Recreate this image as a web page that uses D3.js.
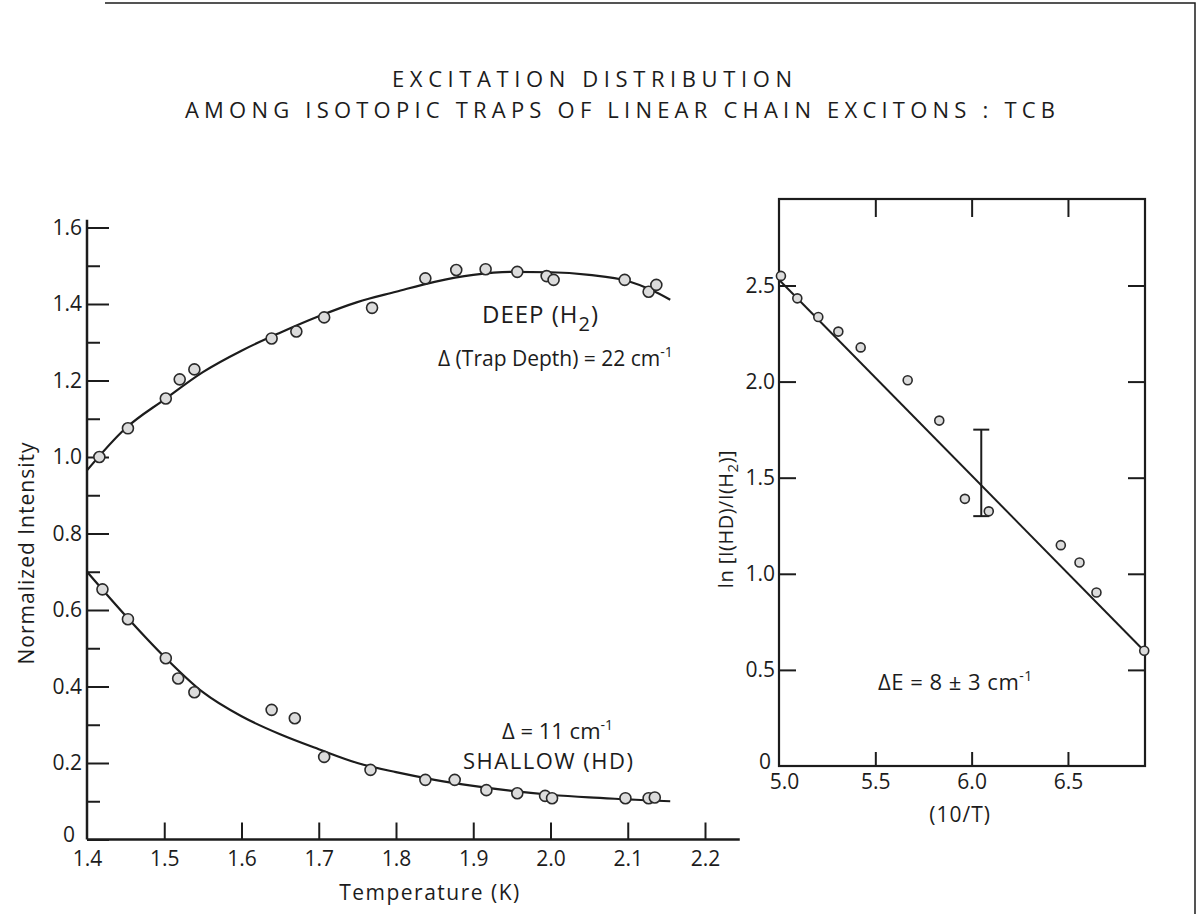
<!DOCTYPE html>
<html>
<head>
<meta charset="utf-8">
<script src="https://cdn.jsdelivr.net/npm/d3@7"></script>
<style>
  body { margin: 0; background: #fff; }
  text { font-family: "Open Sans", "DejaVu Sans", sans-serif; fill: #1c1c1c; }
</style>
</head>
<body>
<svg id="chart"></svg>
<script>
/* left panel data: normalized intensity vs temperature (K) */
var deepT = [1.416, 1.453, 1.502, 1.520, 1.539, 1.639, 1.671, 1.707, 1.769, 1.838, 1.878, 1.916, 1.957, 1.995, 2.004, 2.096, 2.127, 2.137];
var deepI = [1.000, 1.075, 1.153, 1.203, 1.229, 1.310, 1.328, 1.365, 1.390, 1.467, 1.489, 1.491, 1.484, 1.473, 1.463, 1.463, 1.432, 1.450];

var shallowT = [1.420, 1.453, 1.502, 1.518, 1.539, 1.639, 1.669, 1.707, 1.767, 1.838, 1.876, 1.917, 1.957, 1.993, 2.002, 2.097, 2.127, 2.135];
var shallowI = [0.654, 0.576, 0.474, 0.421, 0.385, 0.339, 0.317, 0.216, 0.182, 0.156, 0.156, 0.129, 0.121, 0.114, 0.108, 0.108, 0.108, 0.110];

// smooth fitted curves drawn through the points
var fitT       = [1.40, 1.45, 1.50, 1.55, 1.60, 1.65, 1.70, 1.75, 1.80, 1.85, 1.90, 1.95, 2.00, 2.05, 2.10, 2.13, 2.155];
var deepFit    = [0.965, 1.075, 1.150, 1.222, 1.278, 1.325, 1.368, 1.405, 1.432, 1.458, 1.476, 1.484, 1.483, 1.476, 1.460, 1.437, 1.411];
var shallowFit = [0.700, 0.585, 0.478, 0.385, 0.322, 0.275, 0.236, 0.200, 0.176, 0.156, 0.140, 0.127, 0.117, 0.110, 0.105, 0.102, 0.100];

var leftYTicks = [0, 0.2, 0.4, 0.6, 0.8, 1.0, 1.2, 1.4, 1.6];
var leftYMinor = [0.1, 0.3, 0.5, 0.7, 0.9, 1.1, 1.3, 1.5];
var leftXTicks = [1.4, 1.5, 1.6, 1.7, 1.8, 1.9, 2.0, 2.1, 2.2];

/* right panel data: ln[I(HD)/I(H2)] vs 10/T */
var invT    = [5.010, 5.095, 5.204, 5.308, 5.424, 5.668, 5.832, 5.965, 6.089, 6.463, 6.560, 6.648, 6.896];
var lnRatio = [2.550, 2.433, 2.336, 2.260, 2.178, 2.007, 1.797, 1.390, 1.325, 1.149, 1.059, 0.903, 0.600];

var lineX = [5.0, 6.895];
var lineY = [2.53, 0.60];

var errX = 6.05, errLow = 1.30, errHigh = 1.75;

var rightYTicks = [0, 0.5, 1.0, 1.5, 2.0, 2.5];
var rightXTicks = [5.0, 5.5, 6.0, 6.5];

var width = 1198, height = 914;
var ink = "#1c1c1c";

var svg = d3.select("#chart")
  .attr("width", width)
  .attr("height", height);

svg.append("rect").attr("width", width).attr("height", height).attr("fill", "#fff");

// page frame (top edge and right edge of the scanned sheet)
svg.append("path")
  .attr("d", "M105,3 L1195,3 L1195," + height)
  .attr("fill", "none").attr("stroke", ink).attr("stroke-width", 1.5);

// titles
svg.append("text")
  .attr("x", 392).attr("y", 87)
  .attr("font-size", 22)
  .attr("textLength", 400).attr("lengthAdjust", "spacing")
  .text("EXCITATION  DISTRIBUTION");
svg.append("text")
  .attr("x", 185).attr("y", 118)
  .attr("font-size", 22)
  .attr("textLength", 870).attr("lengthAdjust", "spacing")
  .text("AMONG ISOTOPIC TRAPS OF LINEAR CHAIN EXCITONS : TCB");

/* ---------- left panel ---------- */
var xL = d3.scaleLinear().domain([1.4, 2.2]).range([87, 705]);
var yL = d3.scaleLinear().domain([0, 1.6]).range([839.5, 227.5]);

var left = svg.append("g");

// axis lines drawn separately so they can run past the last tick
left.append("line")
  .attr("x1", xL(1.4)).attr("x2", xL(1.4))
  .attr("y1", yL(0)).attr("y2", yL(1.62))
  .attr("stroke", ink).attr("stroke-width", 2.5);
left.append("line")
  .attr("x1", xL(1.4)).attr("x2", xL(2.245))
  .attr("y1", yL(0)).attr("y2", yL(0))
  .attr("stroke", ink).attr("stroke-width", 2.5);

var yAxisL = d3.axisLeft(yL)
  .tickValues(leftYTicks)
  .tickSizeInner(-22).tickSizeOuter(0).tickPadding(5)
  .tickFormat(function (d) { return d === 0 ? "0" : d3.format(".1f")(d); });
var gy = left.append("g").attr("transform", "translate(" + xL(1.4) + ",0)").call(yAxisL);

var yMinorL = d3.axisLeft(yL).tickValues(leftYMinor).tickSizeInner(-13).tickSizeOuter(0).tickFormat("");
var gym = left.append("g").attr("transform", "translate(" + xL(1.4) + ",0)").call(yMinorL);

var xAxisL = d3.axisBottom(xL)
  .tickValues(leftXTicks)
  .tickSizeInner(-17).tickSizeOuter(0).tickPadding(12)
  .tickFormat(d3.format(".1f"));
var gx = left.append("g").attr("transform", "translate(0," + yL(0) + ")").call(xAxisL);

[gy, gym, gx].forEach(function (g) {
  g.select(".domain").remove();
  g.selectAll(".tick line").attr("stroke", ink).attr("stroke-width", 2);
  g.selectAll(".tick text").attr("font-size", 21).attr("font-family", null).attr("fill", ink);
});
// the corner tick of the x axis is just the y axis itself
gx.selectAll(".tick line").filter(function (d) { return d === 1.4; }).remove();
// keep the origin label clear of the "1.4" below it
gy.selectAll(".tick text").filter(function (d) { return d === 0; }).attr("x", -12).attr("dy", "0.1em");

// axis titles
left.append("text")
  .attr("transform", "translate(34,553) rotate(-90)")
  .attr("text-anchor", "middle")
  .attr("font-size", 21)
  .attr("letter-spacing", 1)
  .text("Normalized Intensity");
left.append("text")
  .attr("x", 430).attr("y", 900)
  .attr("text-anchor", "middle")
  .attr("font-size", 21)
  .attr("letter-spacing", 1.5)
  .text("Temperature  (K)");

// fitted curves
var curveL = d3.line()
  .x(function (d) { return xL(d[0]); })
  .y(function (d) { return yL(d[1]); })
  .curve(d3.curveMonotoneX);

left.append("path")
  .datum(d3.zip(fitT, deepFit))
  .attr("d", curveL)
  .attr("fill", "none").attr("stroke", ink).attr("stroke-width", 2.2);
left.append("path")
  .datum(d3.zip(fitT, shallowFit))
  .attr("d", curveL)
  .attr("fill", "none").attr("stroke", ink).attr("stroke-width", 2.2);

// measured points
function drawPoints (g, xs, ys, xScale, yScale, r) {
  g.selectAll(null)
    .data(d3.zip(xs, ys))
    .enter()
    .append("circle")
      .attr("cx", function (d) { return xScale(d[0]); })
      .attr("cy", function (d) { return yScale(d[1]); })
      .attr("r", r)
      .attr("fill", "#dcdcdc")
      .attr("stroke", "#2a2a2a")
      .attr("stroke-width", 1.6);
}
drawPoints(left, deepT, deepI, xL, yL, 5.5);
drawPoints(left, shallowT, shallowI, xL, yL, 5.5);

// curve labels
var deepLabel = left.append("text")
  .attr("x", 482).attr("y", 323)
  .attr("font-size", 24)
  .attr("letter-spacing", 1);
deepLabel.append("tspan").text("DEEP (H");
deepLabel.append("tspan").attr("dy", 8).attr("font-size", 20).text("2");
deepLabel.append("tspan").attr("dy", -8).text(")");

var depthLabel = left.append("text")
  .attr("x", 438).attr("y", 366)
  .attr("font-size", 21);
depthLabel.append("tspan").text("\u0394 (Trap Depth) = 22 cm");
depthLabel.append("tspan").attr("dy", -9).attr("font-size", 14).text("-1");

var shallowDelta = left.append("text")
  .attr("x", 502).attr("y", 739)
  .attr("font-size", 22);
shallowDelta.append("tspan").text("\u0394 = 11 cm");
shallowDelta.append("tspan").attr("dy", -9).attr("font-size", 14).text("-1");

left.append("text")
  .attr("x", 463).attr("y", 769)
  .attr("font-size", 22)
  .attr("letter-spacing", 1.5)
  .text("SHALLOW (HD)");

/* ---------- right panel ---------- */
var xR = d3.scaleLinear().domain([5.0, 6.9]).range([779, 1145]);
var yR = d3.scaleLinear().domain([0, 2.95]).range([766, 199]);

var right = svg.append("g");

right.append("rect")
  .attr("x", xR(5.0)).attr("y", yR(2.95))
  .attr("width", xR(6.9) - xR(5.0))
  .attr("height", yR(0) - yR(2.95))
  .attr("fill", "none").attr("stroke", ink).attr("stroke-width", 2.2);

var yAxisR = d3.axisLeft(yR)
  .tickValues(rightYTicks)
  .tickSizeInner(-17).tickSizeOuter(0).tickPadding(4)
  .tickFormat(function (d) { return d === 0 ? "0" : d3.format(".1f")(d); });
var ryl = right.append("g").attr("transform", "translate(" + xR(5.0) + ",0)").call(yAxisR);

var yAxisR2 = d3.axisRight(yR).tickValues(rightYTicks.slice(1)).tickSizeInner(-17).tickSizeOuter(0).tickFormat("");
var ryr = right.append("g").attr("transform", "translate(" + xR(6.9) + ",0)").call(yAxisR2);

var xAxisR = d3.axisBottom(xR)
  .tickValues(rightXTicks)
  .tickSizeInner(-14).tickSizeOuter(0).tickPadding(8)
  .tickFormat(d3.format(".1f"));
var rxb = right.append("g").attr("transform", "translate(0," + yR(0) + ")").call(xAxisR);

var xAxisR2 = d3.axisTop(xR).tickValues(rightXTicks.slice(1)).tickSizeInner(-18).tickSizeOuter(0).tickFormat("");
var rxt = right.append("g").attr("transform", "translate(0," + yR(2.95) + ")").call(xAxisR2);

[ryl, ryr, rxb, rxt].forEach(function (g) {
  g.select(".domain").remove();
  g.selectAll(".tick line").attr("stroke", ink).attr("stroke-width", 2);
  g.selectAll(".tick text").attr("font-size", 21).attr("font-family", null).attr("fill", ink);
});
ryl.selectAll(".tick line").filter(function (d) { return d === 0; }).remove();
rxb.selectAll(".tick line").filter(function (d) { return d === 5.0; }).remove();
ryl.selectAll(".tick text").filter(function (d) { return d === 0; }).attr("x", -8).attr("dy", "0.1em");
rxb.selectAll(".tick text").filter(function (d) { return d === 5.0; }).attr("x", 5);

// axis titles
var lnLabel = right.append("text")
  .attr("transform", "translate(733,519) rotate(-90)")
  .attr("text-anchor", "middle")
  .attr("font-size", 20)
  .attr("letter-spacing", 0.5);
lnLabel.append("tspan").text("ln [I(HD)/I(H");
lnLabel.append("tspan").attr("dy", 5).attr("font-size", 15).text("2");
lnLabel.append("tspan").attr("dy", -5).text(")]");

right.append("text")
  .attr("x", xR(5.94)).attr("y", 822)
  .attr("text-anchor", "middle")
  .attr("font-size", 21)
  .attr("letter-spacing", 1)
  .text("(10/T)");

// fitted line
right.append("line")
  .attr("x1", xR(lineX[0])).attr("y1", yR(lineY[0]))
  .attr("x2", xR(lineX[1])).attr("y2", yR(lineY[1]))
  .attr("stroke", ink).attr("stroke-width", 2);

// error bar
right.append("line")
  .attr("x1", xR(errX)).attr("x2", xR(errX))
  .attr("y1", yR(errLow)).attr("y2", yR(errHigh))
  .attr("stroke", ink).attr("stroke-width", 2);
[errLow, errHigh].forEach(function (v) {
  right.append("line")
    .attr("x1", xR(errX) - 8).attr("x2", xR(errX) + 8)
    .attr("y1", yR(v)).attr("y2", yR(v))
    .attr("stroke", ink).attr("stroke-width", 2);
});

drawPoints(right, invT, lnRatio, xR, yR, 4.5);

var energyLabel = right.append("text")
  .attr("x", 878).attr("y", 690)
  .attr("font-size", 22)
  .attr("letter-spacing", 0.5);
energyLabel.append("tspan").text("\u0394E = 8 \u00b1 3 cm");
energyLabel.append("tspan").attr("dy", -9).attr("font-size", 14).text("-1");
</script>
</body>
</html>
